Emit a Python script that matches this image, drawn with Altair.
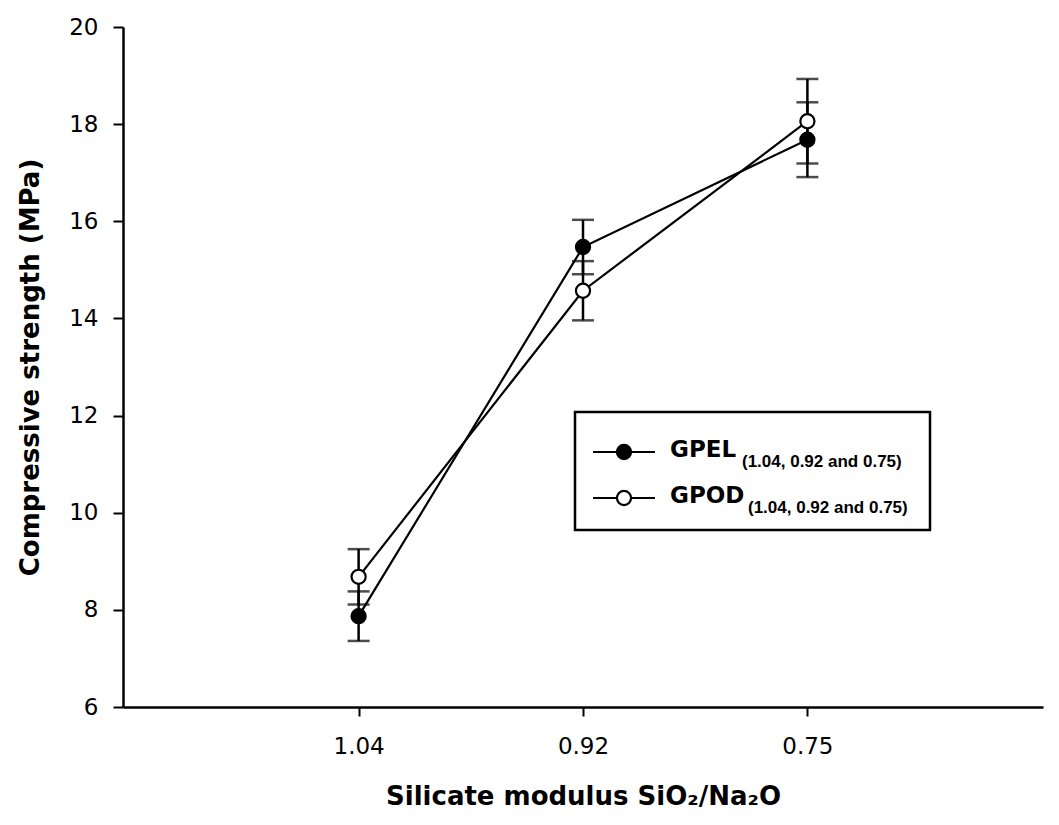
import altair as alt
import pandas as pd

# ---- data ----
modulus = ["1.04", "0.92", "0.75"]
series = ["GPEL", "GPOD"]
gpel_mean = [7.87, 15.47, 17.68]
gpel_err = [0.51, 0.56, 0.77]
gpod_mean = [8.68, 14.57, 18.06]
gpod_err = [0.57, 0.61, 0.87]
legend_sub = "(1.04, 0.92 and 0.75)"
y_ticks = [6, 8, 10, 12, 14, 16, 18, 20]

rows = []
for name, means, errs in [("GPEL", gpel_mean, gpel_err), ("GPOD", gpod_mean, gpod_err)]:
    for i, (m, e) in enumerate(zip(means, errs)):
        rows.append({"series": name, "idx": i, "mean": m, "lo": m - e, "hi": m + e})
df = pd.DataFrame(rows)

FONT = "DejaVu Sans"
W, H = 920, 680
label_expr = "[" + ",".join("'%s'" % m for m in modulus) + "][datum.value]"

x = alt.X("idx:Q",
          scale=alt.Scale(domain=[-1.05, 3.05], nice=False, zero=False),
          axis=alt.Axis(values=list(range(len(modulus))),
                        labelExpr=label_expr,
                        title="Silicate modulus SiO\u2082/Na\u2082O",
                        titleFont=FONT, titleFontSize=26, titleFontWeight="bold",
                        titleColor="black", titleY=97, titleBaseline="alphabetic",
                        labelFont=FONT, labelFontSize=23, labelColor="black",
                        labelPadding=19, tickSize=9, tickWidth=2, tickColor="black",
                        domainColor="black", domainWidth=2.5, grid=False))
y_scale = alt.Scale(domain=[6, 20], nice=False, zero=False)
y = alt.Y("mean:Q", scale=y_scale,
          axis=alt.Axis(values=y_ticks, title="Compressive strength (MPa)",
                        titleFont=FONT, titleFontSize=26, titleFontWeight="bold",
                        titleColor="black", titleAngle=-90, titleX=-93, titleY=340,
                        titleAlign="center", titleBaseline="middle",
                        labelFont=FONT, labelFontSize=23, labelColor="black",
                        labelPadding=15, tickSize=10, tickWidth=2, tickColor="black",
                        domainColor="black", domainWidth=2.5, grid=False))

base = alt.Chart(df)

bars = base.mark_rule(color="black", strokeWidth=2.5).encode(
    x=x, y=alt.Y("lo:Q", scale=y_scale), y2="hi:Q")
cap_lo = base.mark_tick(color="black", orient="horizontal", size=22, thickness=2.5).encode(
    x=x, y=alt.Y("lo:Q", scale=y_scale))
cap_hi = base.mark_tick(color="black", orient="horizontal", size=22, thickness=2.5).encode(
    x=x, y=alt.Y("hi:Q", scale=y_scale))
lines = base.mark_line(color="black", strokeWidth=2.2).encode(
    x=x, y=y, detail="series:N")
points = base.mark_point(shape="circle", size=200, filled=False, stroke="black",
                         strokeWidth=2.2, opacity=1).encode(
    x=x, y=y,
    fill=alt.Fill("series:N", scale=alt.Scale(domain=series, range=["black", "white"]),
                  legend=None))

# ---- manual legend (box, symbols, texts) ----
leg_df = pd.DataFrame({"series": series, "sub": [legend_sub, legend_sub]})
box = alt.Chart(pd.DataFrame({"a": [0]})).mark_rect(
    fill="white", stroke="black", strokeWidth=2.5).encode(
    x=alt.value(452), x2=alt.value(807), y=alt.value(385), y2=alt.value(503))

legend_layers = []
row_pos = [425, 471]
for i, name in enumerate(series):
    c = alt.Chart(leg_df[leg_df.series == name])
    legend_layers.append(c.mark_rule(color="black", strokeWidth=2.2).encode(
        x=alt.value(470), x2=alt.value(532), y=alt.value(row_pos[i])))
    legend_layers.append(c.mark_point(shape="circle", size=200, filled=False,
                                      stroke="black", strokeWidth=2.2, opacity=1,
                                      fill=["black", "white"][i]).encode(
        x=alt.value(501), y=alt.value(row_pos[i])))
    legend_layers.append(c.mark_text(font=FONT, fontSize=23, fontWeight="bold",
                                     align="left", baseline="alphabetic",
                                     color="black").encode(
        x=alt.value(547), y=alt.value(row_pos[i] + 5), text="series:N"))
    legend_layers.append(c.mark_text(font="Liberation Sans", fontSize=17, fontWeight="bold",
                                     align="left", baseline="alphabetic",
                                     color="black").encode(
        x=alt.value([619, 625][i]), y=alt.value(row_pos[i] + 15), text="sub:N"))

chart = alt.layer(bars, cap_lo, cap_hi, lines, points, box, *legend_layers).properties(
    width=W, height=H,
    autosize=alt.AutoSizeParams(type="none"),
    padding={"left": 115, "top": 19, "right": 8, "bottom": 110},
    background="white",
).configure_view(stroke=None)

chart.save("out.html", embed_options={"renderer": "svg", "actions": False})
